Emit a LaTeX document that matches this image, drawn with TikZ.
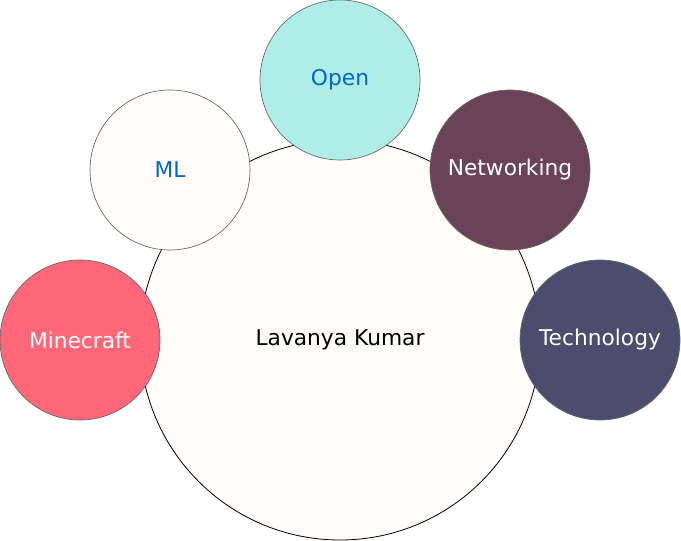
\documentclass[tikz,border=0pt]{standalone}
\usepackage{fontspec}
\setmainfont{DejaVu Sans}
\definecolor{paper}{HTML}{FFFCFA}
\definecolor{aqua}{HTML}{AFEDE7}
\definecolor{plum}{HTML}{6B4359}
\definecolor{coral}{HTML}{FF6677}
\definecolor{slate}{HTML}{4A4D6E}
\definecolor{linkblue}{HTML}{0066CC}
\tikzset{
  topic/.style={circle, draw=black!60, line width=0.5pt, minimum size=120pt, inner sep=0pt, font=\fontsize{16.3}{19}\selectfont},
  hub/.style={circle, draw=black, line width=0.6pt, fill=paper, minimum size=300pt, inner sep=0pt, font=\fontsize{16.3}{19}\selectfont}
}
\begin{document}
\begin{tikzpicture}[x=0.75pt,y=-0.75pt]
          \useasboundingbox (0,0) rectangle (681,541);
          \node[hub] (lk) at (340,340) {Lavanya Kumar};
          \node[topic, fill=aqua, text=linkblue] (open) at (340,80) {Open};
          \node[topic, fill=paper, text=linkblue] (ml) at (170,170) {ML};
          \node[topic, fill=plum, text=white] (net) at (510,170) {Networking};
          \node[topic, fill=coral, text=white] (mc) at (80,340) {Minecraft};
          \node[topic, fill=slate, text=white] (tech) at (600,340) {Technology};
         \end{tikzpicture}
\end{document}
